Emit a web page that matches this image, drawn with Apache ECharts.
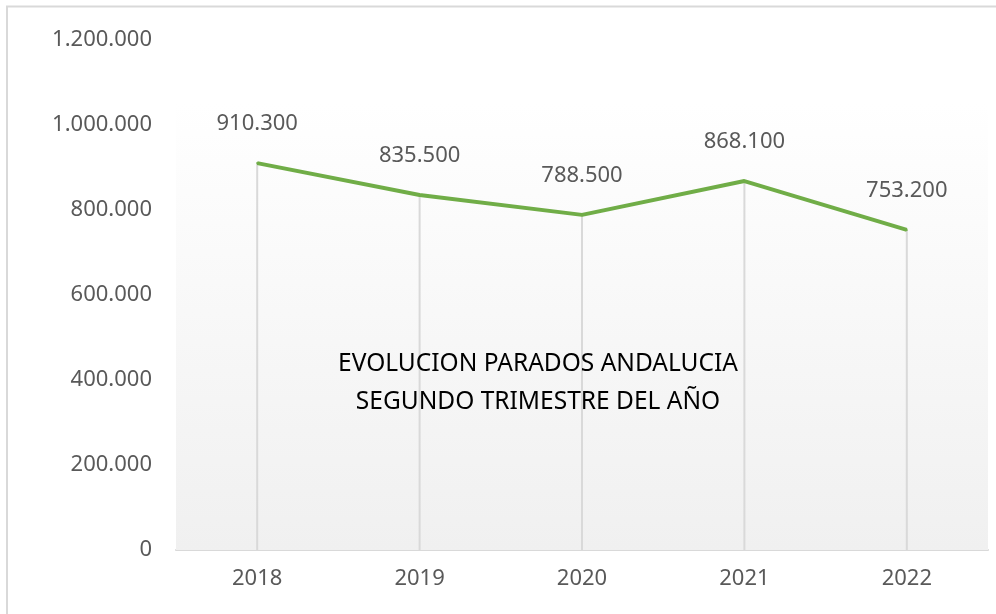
<html>
<head>
<meta charset="UTF-8">
<script src="https://cdn.jsdelivr.net/npm/echarts@6/dist/echarts.min.js"></script>
<style>
  body { margin: 0; background: #fff; }
  #container { width: 996px; height: 614px; }
</style>
</head>
<body>
<div id="container"></div>
<script type="text/javascript">
var years = ["2018", "2019", "2020", "2021", "2022"];
var parados = [910300, 835500, 788500, 868100, 753200];
var yTicks = [0, 200000, 400000, 600000, 800000, 1000000, 1200000];

function fmt(v) {
    return String(v).replace(/\B(?=(\d{3})+(?!\d))/g, ".");
}

var myChart = echarts.init(document.getElementById("container"));
var option = {
    animation: false,
    textStyle: { fontFamily: "Noto Sans" },
    title: {
        text: "EVOLUCION PARADOS ANDALUCIA\nSEGUNDO TRIMESTRE DEL AÑO",
        left: 533,
        top: 340,
        textAlign: "center",
        textStyle: {
            fontFamily: "Noto Sans",
            fontSize: 24.5,
            fontWeight: "normal",
            color: "#000",
            lineHeight: 38
        }
    },
    graphic: [{
        type: "rect",
        shape: { x: 7, y: 6.5, width: 1000, height: 620 },
        style: { fill: null, stroke: "#d9d9d9", lineWidth: 2 },
        z: 100
    }],
    grid: { left: 176, right: 8, top: 40, bottom: 64 },
    xAxis: {
        type: "category",
        data: years,
        boundaryGap: true,
        axisLine: { lineStyle: { color: "#d9d9d9", width: 2 } },
        axisTick: { show: false },
        axisLabel: { color: "#595959", fontSize: 22, margin: 18 }
    },
    yAxis: {
        type: "value",
        min: yTicks[0],
        max: yTicks[yTicks.length - 1],
        interval: 200000,
        splitLine: { show: false },
        axisLine: { show: false },
        axisTick: { show: false },
        axisLabel: { color: "#595959", fontSize: 22, margin: 24, formatter: fmt }
    },
    series: [
        {
            name: "drop",
            type: "bar",
            data: parados,
            barWidth: 2,
            silent: true,
            itemStyle: { color: "#d9d9d9" },
            z: 1,
            markArea: {
                silent: true,
                itemStyle: {
                    color: {
                        type: "linear", x: 0, y: 0, x2: 0, y2: 1,
                        colorStops: [
                            { offset: 0, color: "#ffffff" },
                            { offset: 1, color: "#f0f0f0" }
                        ]
                    }
                },
                data: [[{ yAxis: 0, x: 176 }, { yAxis: 1052000, x: 988 }]]
            }
        },
        {
            name: "Parados",
            type: "line",
            data: parados,
            symbol: "circle",
            symbolSize: 2,
            itemStyle: { color: "#70AD47" },
            lineStyle: { color: "#70AD47", width: 4 },
            z: 5,
            label: {
                show: true,
                position: "top",
                distance: 27,
                color: "#595959",
                fontSize: 22,
                formatter: function (p) { return fmt(p.value); }
            }
        }
    ]
};
myChart.setOption(option);
</script>
</body>
</html>
